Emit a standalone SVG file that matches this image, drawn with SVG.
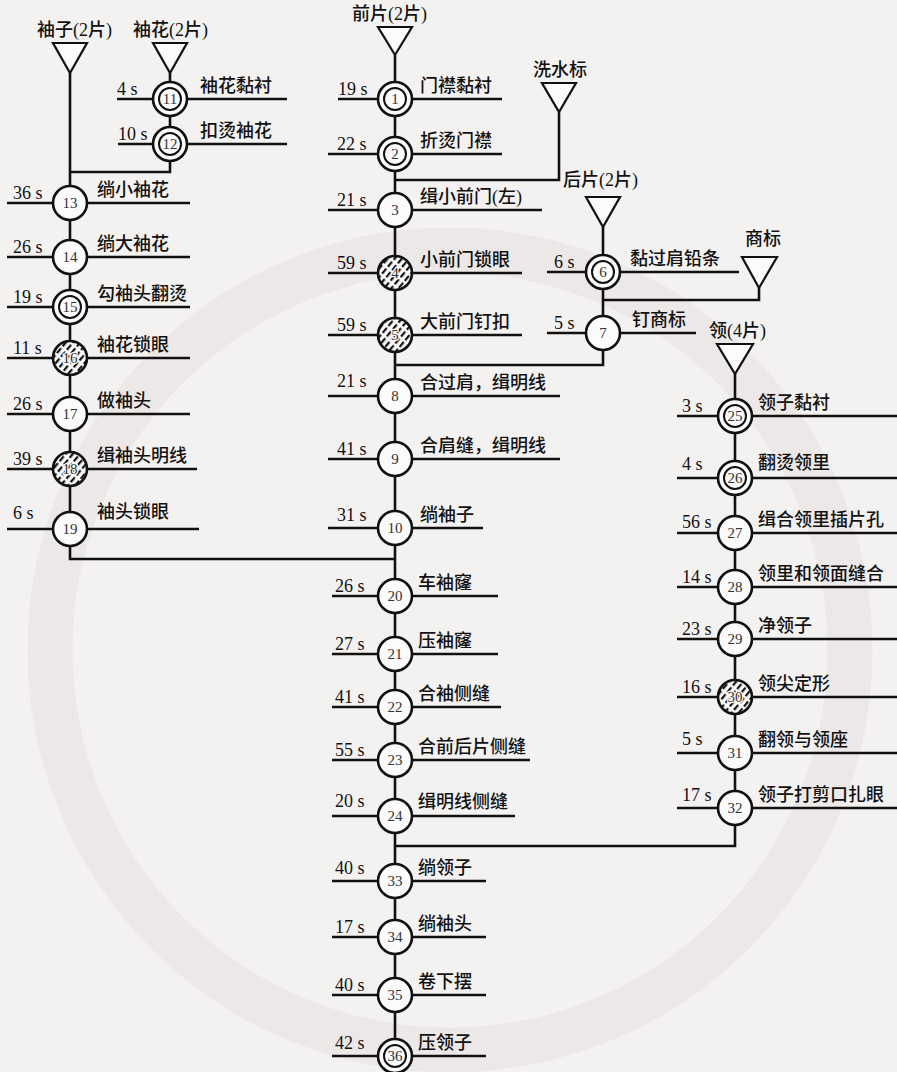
<svg xmlns="http://www.w3.org/2000/svg" width="897" height="1072" viewBox="0 0 897 1072">
<style>
.ln{stroke:#111;stroke-width:2.6;fill:none}
.c{stroke:#111;stroke-width:2.6;fill:#fbfbfb}
.ci{stroke:#111;stroke-width:2;fill:none}
.h{stroke:#111;stroke-width:2.6;fill:url(#hatch)}
.tri{stroke:#111;stroke-width:2.2;fill:#fbfbfb}
.n{font-family:"Liberation Serif","Noto Sans CJK SC",serif;font-size:15px;fill:#333;text-anchor:middle}
.nh{font-family:"Liberation Serif","Noto Sans CJK SC",serif;font-size:15px;fill:#333;text-anchor:middle;stroke:#fbfbfb;stroke-width:2.5;paint-order:stroke}
.t{font-family:"Liberation Serif","Noto Sans CJK SC",serif;font-size:18px;fill:#111}
.l{font-family:"Liberation Serif","Noto Sans CJK SC",serif;font-size:18px;font-weight:500;fill:#111}
</style>
<defs>
<pattern id="hatch" patternUnits="userSpaceOnUse" width="9" height="5.5" patternTransform="rotate(-50)">
<rect width="9" height="5.5" fill="#fbfbfb"/>
<rect x="0" y="0" width="6.5" height="2.2" fill="#111"/>
</pattern>
</defs>
<rect width="897" height="1072" fill="#f4f2f1"/>
<circle cx="450" cy="650" r="400" fill="none" stroke="#ece8e7" stroke-width="45"/>

<g id="connectors" class="ln">
<polyline points="70,73 70,559 395,559"/>
<polyline points="170,73 170,172 70,172"/>
<line x1="395" y1="55" x2="395" y2="1056"/>
<polyline points="559,112 559,180 395,180"/>
<polyline points="603,227 603,365 395,365"/>
<polyline points="759,288 759,300 603,300"/>
<polyline points="735,374 735,846 395,846"/>
</g>

<g id="sources">
<g id="src-sleeve"><polygon class="tri" points="53,43 87,43 70,73"/><text class="l" x="37" y="36">袖子(2片)</text></g>
<g id="src-cuff"><polygon class="tri" points="153,43 187,43 170,73"/><text class="l" x="133" y="36">袖花(2片)</text></g>
<g id="src-front"><polygon class="tri" points="378,27 412,27 395,55"/><text class="l" x="352" y="20">前片(2片)</text></g>
<g id="src-wash"><polygon class="tri" points="542,83 576,83 559,112"/><text class="l" x="533" y="76">洗水标</text></g>
<g id="src-back"><polygon class="tri" points="586,197 620,197 603,227"/><text class="l" x="563" y="186">后片(2片)</text></g>
<g id="src-brand"><polygon class="tri" points="742,257 777,257 759,288"/><text class="l" x="745" y="245">商标</text></g>
<g id="src-collar"><polygon class="tri" points="717,344 753,344 735,374"/><text class="l" x="709" y="337">领(4片)</text></g>
</g>

<!-- sleeve flower -->
<g id="n11"><line class="ln" x1="117" y1="99" x2="287" y2="99"/><circle class="c" cx="170" cy="99" r="17"/><circle class="ci" cx="170" cy="99" r="11"/><text class="n" x="170" y="104">11</text><text class="t" x="117" y="95">4 s</text><text class="l" x="200" y="92">袖花黏衬</text></g>
<g id="n12"><line class="ln" x1="118" y1="144" x2="287" y2="144"/><circle class="c" cx="170" cy="144" r="17"/><circle class="ci" cx="170" cy="144" r="11"/><text class="n" x="170" y="149">12</text><text class="t" x="118" y="140">10 s</text><text class="l" x="200" y="137">扣烫袖花</text></g>

<!-- sleeve column -->
<g id="n13"><line class="ln" x1="7" y1="203" x2="190" y2="203"/><circle class="c" cx="70" cy="203" r="17"/><text class="n" x="70" y="208">13</text><text class="t" x="13" y="199">36 s</text><text class="l" x="97" y="196">绱小袖花</text></g>
<g id="n14"><line class="ln" x1="7" y1="257" x2="190" y2="257"/><circle class="c" cx="70" cy="257" r="17"/><text class="n" x="70" y="262">14</text><text class="t" x="13" y="253">26 s</text><text class="l" x="97" y="250">绱大袖花</text></g>
<g id="n15"><line class="ln" x1="7" y1="307" x2="190" y2="307"/><circle class="c" cx="70" cy="307" r="17"/><circle class="ci" cx="70" cy="307" r="11"/><text class="n" x="70" y="312">15</text><text class="t" x="13" y="303">19 s</text><text class="l" x="97" y="300">勾袖头翻烫</text></g>
<g id="n16"><line class="ln" x1="7" y1="358" x2="190" y2="358"/><circle class="h" cx="70" cy="358" r="17"/><text class="nh" x="70" y="363">16</text><text class="t" x="13" y="354">11 s</text><text class="l" x="97" y="351">袖花锁眼</text></g>
<g id="n17"><line class="ln" x1="7" y1="414" x2="190" y2="414"/><circle class="c" cx="70" cy="414" r="17"/><text class="n" x="70" y="419">17</text><text class="t" x="13" y="410">26 s</text><text class="l" x="97" y="407">做袖头</text></g>
<g id="n18"><line class="ln" x1="7" y1="469" x2="197" y2="469"/><circle class="h" cx="70" cy="469" r="17"/><text class="nh" x="70" y="474">18</text><text class="t" x="13" y="465">39 s</text><text class="l" x="97" y="462">缉袖头明线</text></g>
<g id="n19"><line class="ln" x1="7" y1="529" x2="199" y2="529"/><circle class="c" cx="70" cy="529" r="17"/><text class="n" x="70" y="534">19</text><text class="t" x="13" y="519">6 s</text><text class="l" x="97" y="518">袖头锁眼</text></g>

<!-- main column -->
<g id="n1"><line class="ln" x1="338" y1="99" x2="502" y2="99"/><circle class="c" cx="395" cy="99" r="17"/><circle class="ci" cx="395" cy="99" r="11"/><text class="n" x="395" y="104">1</text><text class="t" x="338" y="95">19 s</text><text class="l" x="420" y="92">门襟黏衬</text></g>
<g id="n2"><line class="ln" x1="328" y1="154" x2="502" y2="154"/><circle class="c" cx="395" cy="154" r="17"/><circle class="ci" cx="395" cy="154" r="11"/><text class="n" x="395" y="159">2</text><text class="t" x="337" y="150">22 s</text><text class="l" x="420" y="147">折烫门襟</text></g>
<g id="n3"><line class="ln" x1="328" y1="210" x2="542" y2="210"/><circle class="c" cx="395" cy="210" r="17"/><text class="n" x="395" y="215">3</text><text class="t" x="337" y="206">21 s</text><text class="l" x="420" y="203">缉小前门(左)</text></g>
<g id="n4"><line class="ln" x1="328" y1="273" x2="522" y2="273"/><circle class="h" cx="395" cy="273" r="17"/><text class="nh" x="395" y="278">4</text><text class="t" x="337" y="269">59 s</text><text class="l" x="420" y="266">小前门锁眼</text></g>
<g id="n5"><line class="ln" x1="328" y1="335" x2="522" y2="335"/><circle class="h" cx="395" cy="335" r="17"/><text class="nh" x="395" y="340">5</text><text class="t" x="337" y="331">59 s</text><text class="l" x="420" y="328">大前门钉扣</text></g>
<g id="n8"><line class="ln" x1="328" y1="396" x2="560" y2="396"/><circle class="c" cx="395" cy="396" r="17"/><text class="n" x="395" y="401">8</text><text class="t" x="337" y="387">21 s</text><text class="l" x="420" y="389">合过肩，缉明线</text></g>
<g id="n9"><line class="ln" x1="328" y1="459" x2="560" y2="459"/><circle class="c" cx="395" cy="459" r="17"/><text class="n" x="395" y="464">9</text><text class="t" x="337" y="455">41 s</text><text class="l" x="420" y="452">合肩缝，缉明线</text></g>
<g id="n10"><line class="ln" x1="328" y1="528" x2="483" y2="528"/><circle class="c" cx="395" cy="528" r="17"/><text class="n" x="395" y="533">10</text><text class="t" x="337" y="521">31 s</text><text class="l" x="420" y="521">绱袖子</text></g>
<g id="n20"><line class="ln" x1="332" y1="596" x2="498" y2="596"/><circle class="c" cx="395" cy="596" r="17"/><text class="n" x="395" y="601">20</text><text class="t" x="335" y="592">26 s</text><text class="l" x="418" y="589">车袖窿</text></g>
<g id="n21"><line class="ln" x1="332" y1="654" x2="498" y2="654"/><circle class="c" cx="395" cy="654" r="17"/><text class="n" x="395" y="659">21</text><text class="t" x="335" y="650">27 s</text><text class="l" x="418" y="647">压袖窿</text></g>
<g id="n22"><line class="ln" x1="332" y1="707" x2="501" y2="707"/><circle class="c" cx="395" cy="707" r="17"/><text class="n" x="395" y="712">22</text><text class="t" x="335" y="703">41 s</text><text class="l" x="418" y="700">合袖侧缝</text></g>
<g id="n23"><line class="ln" x1="332" y1="760" x2="530" y2="760"/><circle class="c" cx="395" cy="760" r="17"/><text class="n" x="395" y="765">23</text><text class="t" x="335" y="756">55 s</text><text class="l" x="418" y="753">合前后片侧缝</text></g>
<g id="n24"><line class="ln" x1="332" y1="816" x2="515" y2="816"/><circle class="c" cx="395" cy="816" r="17"/><text class="n" x="395" y="821">24</text><text class="t" x="335" y="807">20 s</text><text class="l" x="418" y="808">缉明线侧缝</text></g>
<g id="n33"><line class="ln" x1="332" y1="881" x2="486" y2="881"/><circle class="c" cx="395" cy="881" r="17"/><text class="n" x="395" y="886">33</text><text class="t" x="335" y="874">40 s</text><text class="l" x="418" y="874">绱领子</text></g>
<g id="n34"><line class="ln" x1="332" y1="937" x2="486" y2="937"/><circle class="c" cx="395" cy="937" r="17"/><text class="n" x="395" y="942">34</text><text class="t" x="335" y="933">17 s</text><text class="l" x="418" y="930">绱袖头</text></g>
<g id="n35"><line class="ln" x1="332" y1="995" x2="486" y2="995"/><circle class="c" cx="395" cy="995" r="17"/><text class="n" x="395" y="1000">35</text><text class="t" x="335" y="991">40 s</text><text class="l" x="418" y="988">卷下摆</text></g>
<g id="n36"><line class="ln" x1="332" y1="1056" x2="486" y2="1056"/><circle class="c" cx="395" cy="1056" r="17"/><circle class="ci" cx="395" cy="1056" r="11"/><text class="n" x="395" y="1061">36</text><text class="t" x="335" y="1049">42 s</text><text class="l" x="418" y="1049">压领子</text></g>

<!-- back piece -->
<g id="n6"><line class="ln" x1="547" y1="272" x2="739" y2="272"/><circle class="c" cx="603" cy="272" r="17"/><circle class="ci" cx="603" cy="272" r="11"/><text class="n" x="603" y="277">6</text><text class="t" x="554" y="268">6 s</text><text class="l" x="630" y="265">黏过肩铅条</text></g>
<g id="n7"><line class="ln" x1="547" y1="333" x2="696" y2="333"/><circle class="c" cx="603" cy="333" r="17"/><text class="n" x="603" y="338">7</text><text class="t" x="554" y="329">5 s</text><text class="l" x="632" y="326">钉商标</text></g>

<!-- collar -->
<g id="n25"><line class="ln" x1="677" y1="416" x2="897" y2="416"/><circle class="c" cx="735" cy="416" r="17"/><circle class="ci" cx="735" cy="416" r="11"/><text class="n" x="735" y="421">25</text><text class="t" x="682" y="412">3 s</text><text class="l" x="758" y="409">领子黏衬</text></g>
<g id="n26"><line class="ln" x1="677" y1="478" x2="897" y2="478"/><circle class="c" cx="735" cy="478" r="17"/><circle class="ci" cx="735" cy="478" r="11"/><text class="n" x="735" y="483">26</text><text class="t" x="682" y="470">4 s</text><text class="l" x="758" y="469">翻烫领里</text></g>
<g id="n27"><line class="ln" x1="677" y1="533" x2="897" y2="533"/><circle class="c" cx="735" cy="533" r="17"/><text class="n" x="735" y="538">27</text><text class="t" x="682" y="528">56 s</text><text class="l" x="758" y="526">缉合领里插片孔</text></g>
<g id="n28"><line class="ln" x1="677" y1="587" x2="897" y2="587"/><circle class="c" cx="735" cy="587" r="17"/><text class="n" x="735" y="592">28</text><text class="t" x="682" y="583">14 s</text><text class="l" x="758" y="580">领里和领面缝合</text></g>
<g id="n29"><line class="ln" x1="677" y1="639" x2="897" y2="639"/><circle class="c" cx="735" cy="639" r="17"/><text class="n" x="735" y="644">29</text><text class="t" x="682" y="635">23 s</text><text class="l" x="758" y="632">净领子</text></g>
<g id="n30"><line class="ln" x1="677" y1="697" x2="897" y2="697"/><circle class="h" cx="735" cy="697" r="17"/><text class="nh" x="735" y="702">30</text><text class="t" x="682" y="693">16 s</text><text class="l" x="758" y="690">领尖定形</text></g>
<g id="n31"><line class="ln" x1="677" y1="753" x2="897" y2="753"/><circle class="c" cx="735" cy="753" r="17"/><text class="n" x="735" y="758">31</text><text class="t" x="682" y="745">5 s</text><text class="l" x="758" y="746">翻领与领座</text></g>
<g id="n32"><line class="ln" x1="677" y1="808" x2="897" y2="808"/><circle class="c" cx="735" cy="808" r="17"/><text class="n" x="735" y="813">32</text><text class="t" x="682" y="801">17 s</text><text class="l" x="758" y="801">领子打剪口扎眼</text></g>
</svg>
